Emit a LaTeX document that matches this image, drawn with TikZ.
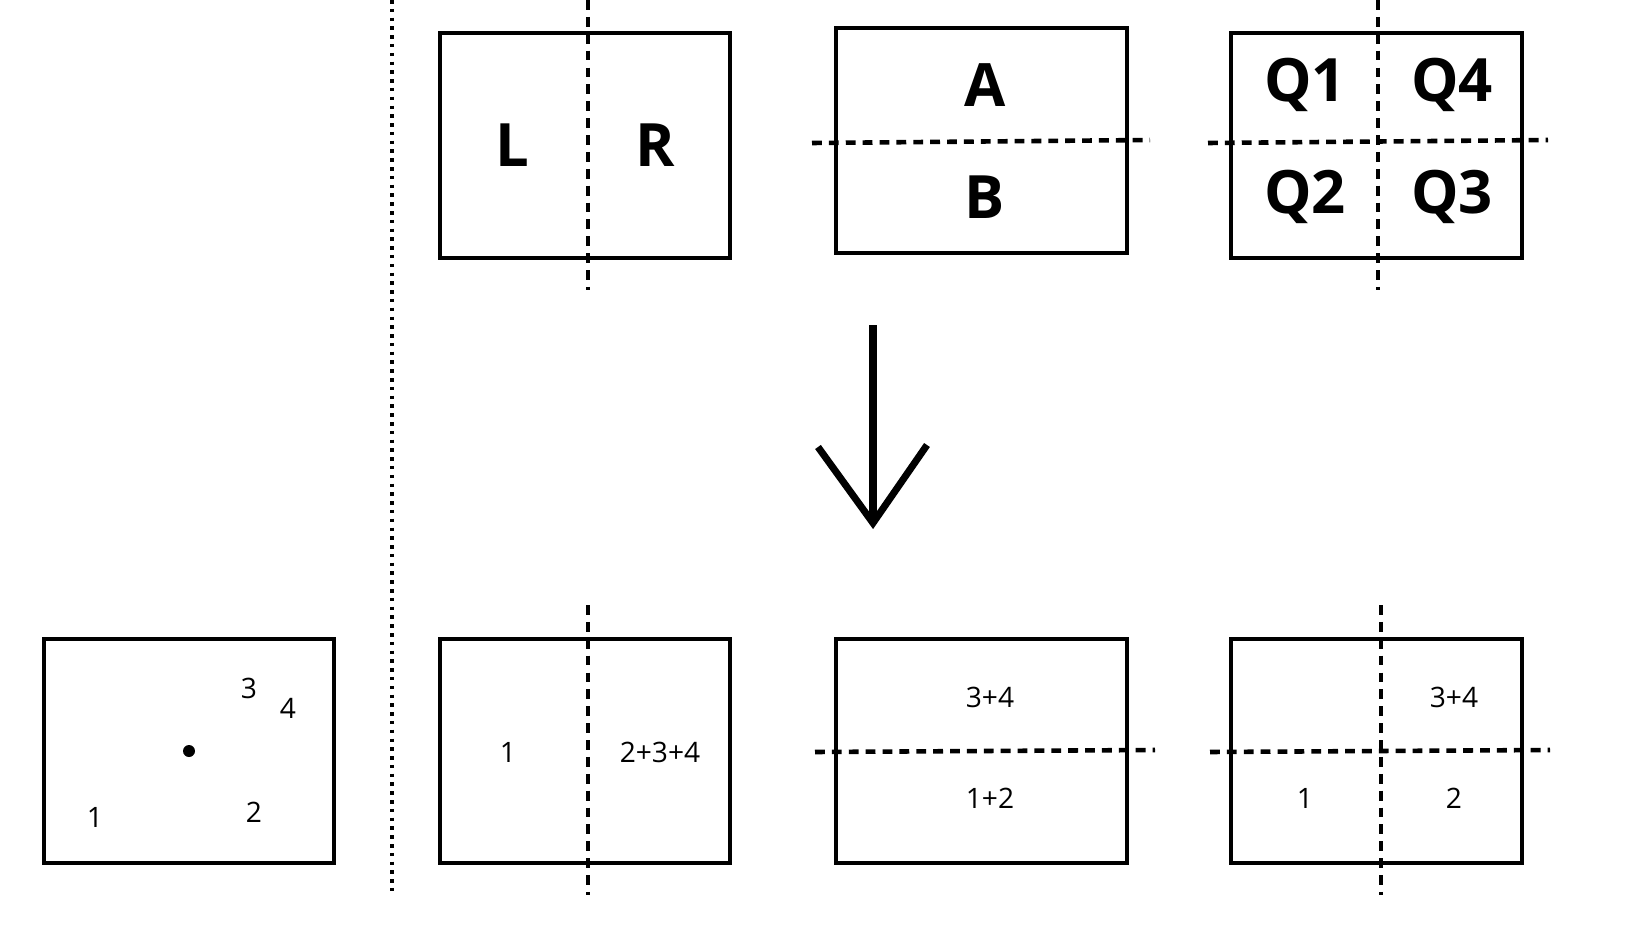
\documentclass[tikz,border=0pt]{standalone}
\usepackage{fontspec}
\setmainfont{Open Sans}
\begin{document}
\begin{tikzpicture}[x=0.01cm,y=-0.01cm,
  box/.style={draw,line width=1.3pt},
  dl/.style={line width=1.3pt,dash pattern=on 2.8pt off 2pt},
  big/.style={font=\fontsize{17}{20}\selectfont\bfseries},
  sm/.style={font=\fontsize{8}{10}\selectfont}]
\useasboundingbox (0,0) rectangle (1626,933);
\draw[line width=1pt,dash pattern=on 1pt off 1.5pt] (392,0) coordinate(t) -- (392,895) coordinate(b);
% top
\draw[box] (440,33) rectangle (730,258);
\draw[dl] (588,0) -- (588,290);
\node[big] (L) at (512,145) {L}; \node[big] (R) at (655,145) {R};
\draw[box] (836,28) rectangle (1127,253);
\draw[dl] (812,143) -- (1150,140);
\node[big] (A) at (985,85) {A}; \node[big] (B) at (985,197) {B};
\draw[box] (1231,33) rectangle (1522,258);
\draw[dl] (1378,0) -- (1378,290);
\draw[dl] (1208,143) -- (1548,140);
\node[big] at (1305,85) {Q1}; \node[big] at (1452,85) {Q4};
\node[big] at (1305,197) {Q2}; \node[big] at (1452,197) {Q3};
% arrow
\draw[line width=2pt] (873,325) -- (873,523);
\draw[line width=2pt] (818,447) -- (873,523) -- (927,445);
% bottom
\draw[box] (44,639) rectangle (334,863);
\node[sm] at (249,688) {3}; \node[sm] at (288,708) {4};
\node[sm] at (95,817) {1}; \node[sm] at (254,812) {2};
\fill (189,751) circle (6);
\draw[box] (440,639) rectangle (730,863);
\draw[dl] (588,605) -- (588,895);
\node[sm] at (508,752) {1}; \node[sm] at (660,752) {2+3+4};
\draw[box] (836,639) rectangle (1127,863);
\draw[dl] (815,752) -- (1155,750);
\node[sm] at (990,697) {3+4}; \node[sm] at (990,798) {1+2};
\draw[box] (1231,639) rectangle (1522,863);
\draw[dl] (1381,605) -- (1381,895);
\draw[dl] (1210,752) -- (1550,750);
\node[sm] at (1454,697) {3+4}; \node[sm] at (1305,798) {1}; \node[sm] at (1454,798) {2};
\end{tikzpicture}
\end{document}
